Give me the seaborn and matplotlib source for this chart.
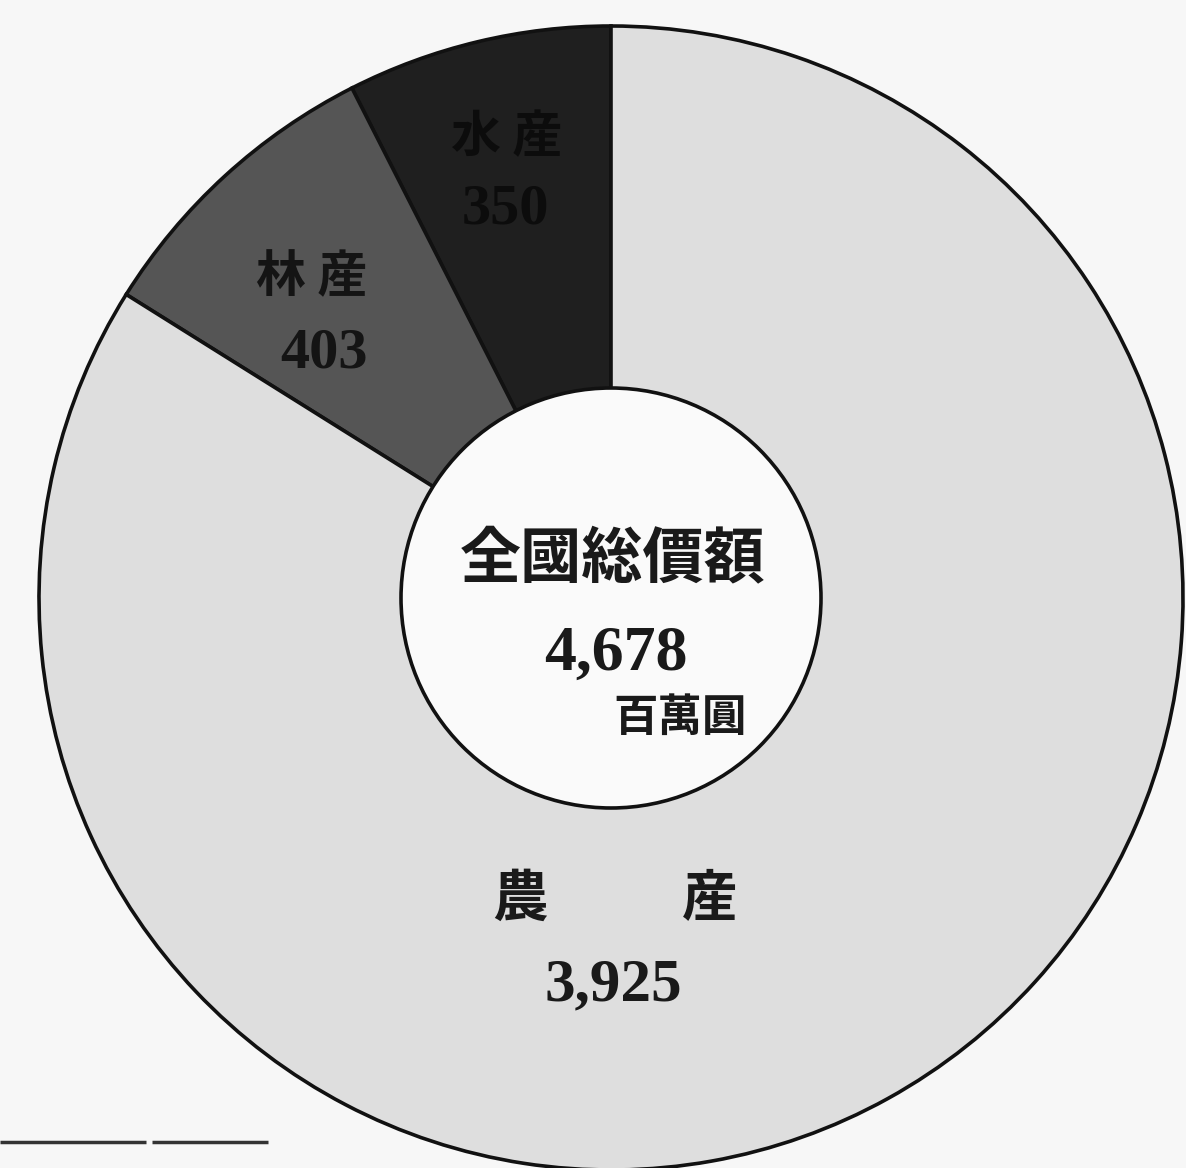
import matplotlib
matplotlib.use("Agg")
import matplotlib.pyplot as plt
import seaborn as sns

# ---- data ----
categories = ["水産", "林産", "農産"]
values = [350, 403, 3925]
total_label = "全國総價額"
total_value = "4,678"
unit_label = "百萬圓"
value_labels = ["350", "403", "3,925"]

sns.set_theme(style="white")
plt.rcParams["font.family"] = ["Noto Sans CJK JP", "DejaVu Sans"]

colors = ["#1f1f1f", "#555555", "#dedede"]
bg = "#f7f7f7"

fig = plt.figure(figsize=(11.86, 11.68), dpi=100, facecolor=bg)
ax = fig.add_axes([0, 0, 1, 1])
ax.set_facecolor(bg)

cx, cy, R = 611, 598, 572
# y axis is inverted below, so angles are mirrored: start at -90 and go clockwise
wedges, _ = ax.pie(values, colors=colors, startangle=-90, counterclock=False,
                   center=(cx, cy), radius=R, frame=True,
                   wedgeprops=dict(edgecolor="#111111", linewidth=2.6))
ax.set_xlim(0, 1186)
ax.set_ylim(1168, 0)
ax.set_aspect("equal")
ax.axis("off")

inner = plt.Circle((cx, cy), 210, facecolor="#fafafa", edgecolor="#111111", linewidth=2.6, zorder=5)
ax.add_patch(inner)

cjk = ["Noto Sans CJK JP", "DejaVu Sans"]
serif = ["Liberation Serif", "DejaVu Serif"]

ax.text(cx + 2, 560, total_label, ha="center", va="center", fontsize=44, fontweight="bold",
        family=cjk, color="#1a1a1a", zorder=6)
ax.text(cx + 5, 655, total_value, ha="center", va="center", fontsize=46, fontweight="bold",
        family=serif, color="#1a1a1a", zorder=6)
ax.text(680, 718, unit_label, ha="center", va="center", fontsize=32, fontweight="bold",
        family=cjk, color="#1a1a1a", zorder=6)

# slice labels
ax.text(520, 900, categories[2][0], ha="center", va="center", fontsize=40, fontweight="bold",
        family=cjk, color="#1a1a1a")
ax.text(710, 900, categories[2][1], ha="center", va="center", fontsize=40, fontweight="bold",
        family=cjk, color="#1a1a1a")
ax.text(613, 985, value_labels[2], ha="center", va="center", fontsize=44, fontweight="bold",
        family=serif, color="#1a1a1a")

ax.text(312, 278, categories[1][0] + " " + categories[1][1], ha="center", va="center",
        fontsize=36, fontweight="bold", family=cjk, color="#141414")
ax.text(324, 353, value_labels[1], ha="center", va="center", fontsize=42, fontweight="bold",
        family=serif, color="#141414")

ax.text(507, 138, categories[0][0] + " " + categories[0][1], ha="center", va="center",
        fontsize=36, fontweight="bold", family=cjk, color="#0c0c0c")
ax.text(505, 210, value_labels[0], ha="center", va="center", fontsize=42, fontweight="bold",
        family=serif, color="#0c0c0c")

# decorative rule at bottom-left
ax.plot([0, 146], [1142, 1142], color="#333333", linewidth=2.5, solid_capstyle="butt")
ax.plot([152, 268], [1142, 1142], color="#333333", linewidth=2.5, solid_capstyle="butt")

fig.savefig("out.png", dpi=100, facecolor=bg)
